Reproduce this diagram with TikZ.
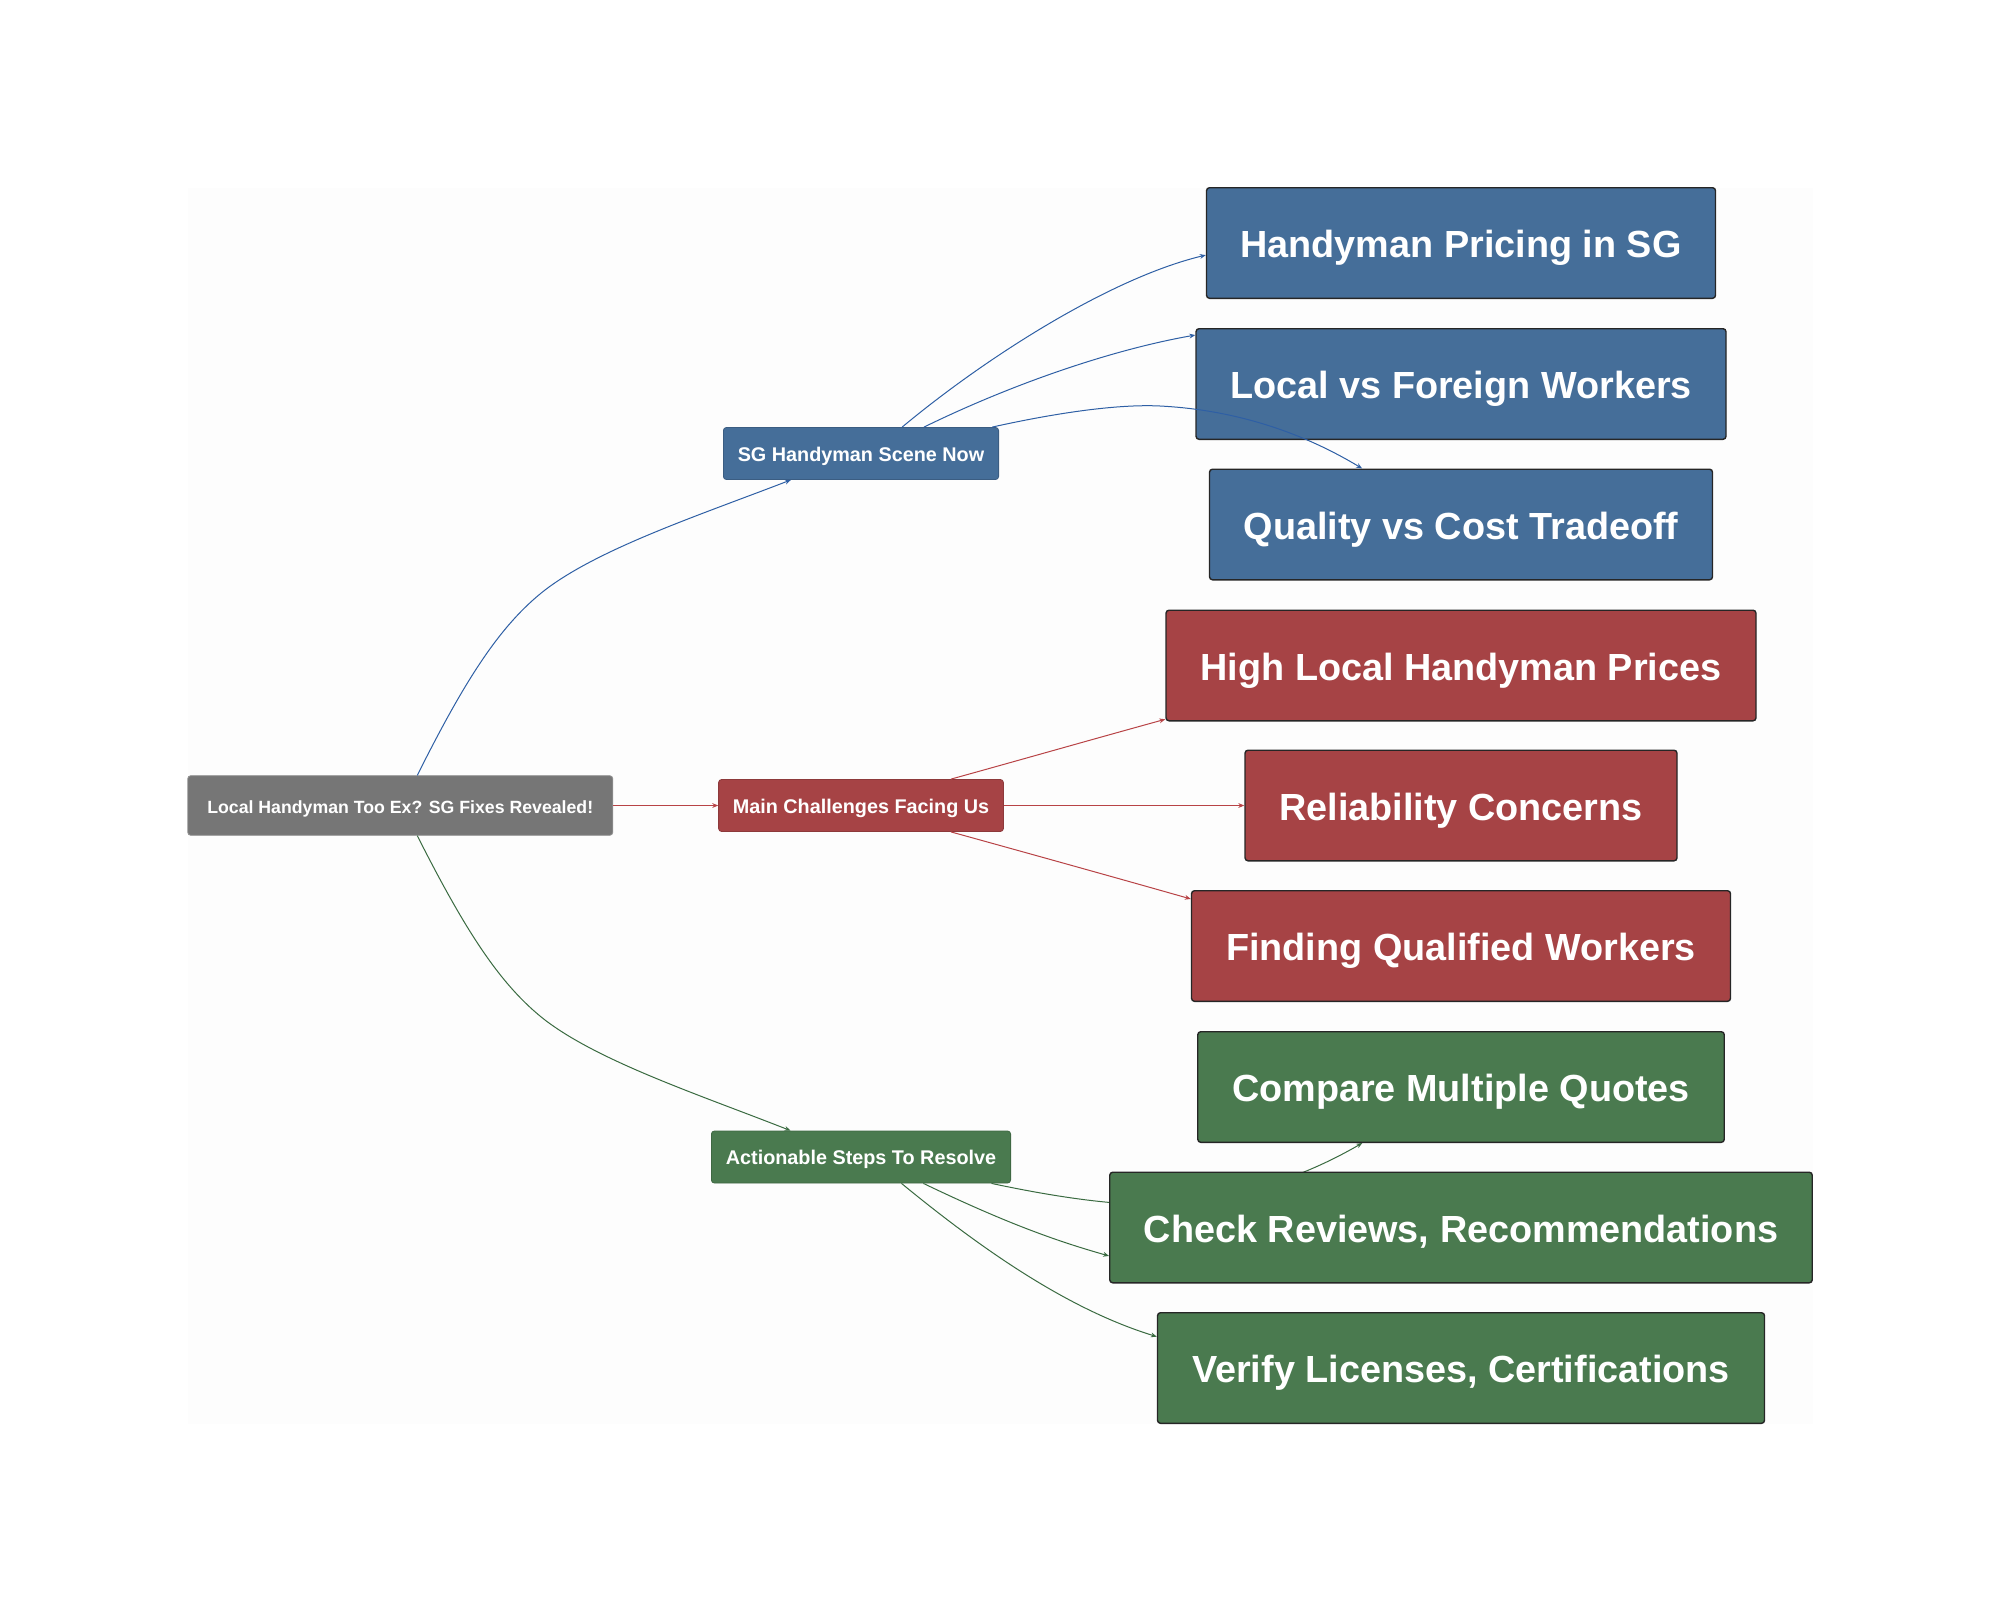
\documentclass[tikz,border=0pt]{standalone}
\usepackage{fontspec}
\setmainfont{Liberation Sans}
\usetikzlibrary{calc,arrows.meta,backgrounds}
\definecolor{cblue}{HTML}{456E99}
\definecolor{cred}{HTML}{A64345}
\definecolor{cgreen}{HTML}{4A7A4F}
\definecolor{cgray}{HTML}{767676}
\definecolor{eblue}{HTML}{2E5FA5}
\definecolor{ered}{HTML}{B84346}
\definecolor{egreen}{HTML}{3A6B41}
\definecolor{panel}{HTML}{FDFDFD}
\tikzset{
  box/.style={rectangle,rounded corners=1.5pt,inner sep=0pt,text=white,font=\bfseries,align=center},
  small/.style={box,line width=0.4pt,font=\bfseries\fontsize{9.9}{12}\selectfont,text height=9pt,text depth=1.3pt},
  big/.style={box,draw=black!85,line width=0.7pt,font=\bfseries\fontsize{18.9}{22}\selectfont,text height=18pt,text depth=3.2pt},
  blueb/.style={fill=cblue},
  redb/.style={fill=cred},
  greenb/.style={fill=cgreen},
  link/.style={line width=0.5pt,-{Stealth[length=3pt,width=2.4pt]}},
}
\begin{document}
\begin{tikzpicture}[x=0.5pt,y=-0.5pt]
\useasboundingbox (0,0) rectangle (2000,1611);
\begin{pgfonlayer}{background}
\fill[white] (0,0) rectangle (2000,1611);
\fill[panel] (187.5,187.5) rectangle (1812.5,1423.5);
\end{pgfonlayer}

\node[small,fill=cgray,draw=cgray!80!white,minimum width=212.5pt,minimum height=29.8pt,font=\bfseries\fontsize{8.85}{11}\selectfont] (root) at (400.25,805.5) {Local Handyman Too Ex? SG Fixes Revealed!};
\node[small,blueb,draw=cblue!85!black,minimum width=137.6pt,minimum height=26pt] (sg) at (861,453.5) {SG Handyman Scene Now};
\node[small,redb,draw=cred!85!black,minimum width=142.4pt,minimum height=26pt] (main) at (861,805.5) {Main Challenges Facing Us};
\node[small,greenb,draw=cgreen!85!black,minimum width=149.6pt,minimum height=26pt] (act) at (861,1157) {Actionable Steps To Resolve};

\node[big,blueb,minimum width=254.5pt,minimum height=55.3pt] (hp) at (1461,243) {Handyman Pricing in SG};
\node[big,blueb,minimum width=265pt,minimum height=55.3pt] (lf) at (1461,384) {Local vs Foreign Workers};
\node[big,blueb,minimum width=251.5pt,minimum height=55.3pt] (qc) at (1461,524.5) {Quality vs Cost Tradeoff};
\node[big,redb,minimum width=295pt,minimum height=55.3pt] (hl) at (1461,665.5) {High Local Handyman Prices};
\node[big,redb,minimum width=216pt,minimum height=55.3pt] (rc) at (1461,805.5) {Reliability Concerns};
\node[big,redb,minimum width=269.5pt,minimum height=55.3pt] (fq) at (1461,946) {Finding Qualified Workers};
\node[big,greenb,minimum width=263.25pt,minimum height=55.3pt] (cq) at (1461,1087) {Compare Multiple Quotes};
\node[big,greenb,minimum width=351.25pt,minimum height=55.3pt] (cr) at (1461,1227.5) {Check Reviews, Recommendations};
\node[big,greenb,minimum width=303.5pt,minimum height=55.3pt] (vl) at (1461,1368) {Verify Licenses, Certifications};

% root edges
\draw[link,eblue] ($(root.north west)!0.54!(root.north east)$) .. controls (465,680) and (500,625) .. (545,590) .. controls (600,548) and (700,515) .. ($(sg.south west)!0.246!(sg.south east)$);
\draw[link,ered] (root.east) -- (main.west);
\draw[link,egreen] ($(root.south west)!0.54!(root.south east)$) .. controls (465,930) and (500,985) .. (545,1020) .. controls (600,1062) and (700,1095) .. ($(act.north west)!0.265!(act.north east)$);

% blue branch
\draw[link,eblue] ($(sg.north west)!0.649!(sg.north east)$) .. controls (985,358) and (1110,278) .. ($(hp.north west)!0.608!(hp.south west)$);
\draw[link,eblue] ($(sg.north west)!0.728!(sg.north east)$) .. controls (1010,385) and (1110,350) .. ($(lf.north west)!0.063!(lf.south west)$);
\draw[link,eblue] ($(sg.north west)!0.975!(sg.north east)$) .. controls (1060,412) and (1120,404) .. (1160,406) .. controls (1220,409) and (1290,425) .. ($(qc.north west)!0.304!(qc.north east)$);

% red branch
\draw[link,ered] ($(main.north west)!0.815!(main.north east)$) .. controls (1020,760) and (1090,740) .. ($(hl.north west)!0.98!(hl.south west)$);
\draw[link,ered] (main.east) -- (rc.west);
\draw[link,ered] ($(main.south west)!0.815!(main.south east)$) .. controls (1020,851) and (1110,876) .. ($(fq.north west)!0.08!(fq.south west)$);

% green branch
\begin{pgfonlayer}{background}
\draw[link,egreen] ($(act.south west)!0.935!(act.south east)$) .. controls (1060,1198) and (1120,1206) .. (1160,1204) .. controls (1220,1201) and (1290,1185) .. ($(cq.south west)!0.313!(cq.south east)$);
\end{pgfonlayer}
\draw[link,egreen] ($(act.south west)!0.708!(act.south east)$) .. controls (1010,1225) and (1060,1242) .. ($(cr.north west)!0.754!(cr.south west)$);
\draw[link,egreen] ($(act.south west)!0.635!(act.south east)$) .. controls (985,1252) and (1070,1310) .. ($(vl.north west)!0.22!(vl.south west)$);
\end{tikzpicture}
\end{document}
